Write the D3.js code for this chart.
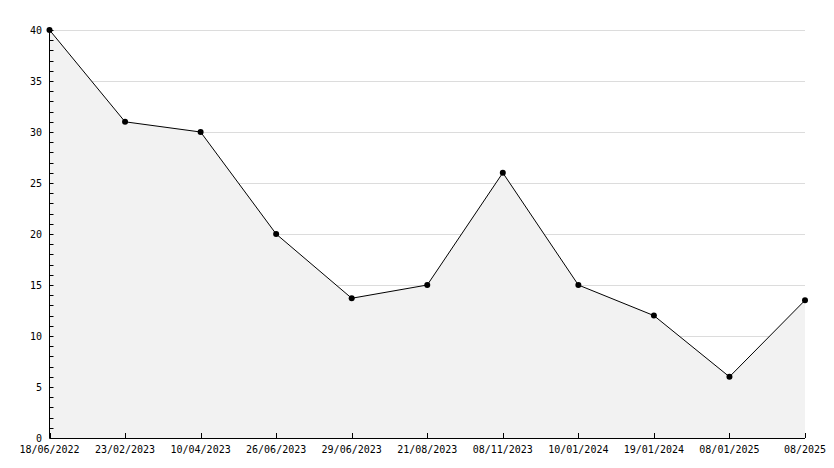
<!DOCTYPE html>
<html><head><meta charset="utf-8">
<script src="https://cdn.jsdelivr.net/npm/d3@7"></script>
<style>body{margin:0;background:#fff}svg{display:block}text{font-family:"DejaVu Sans Mono",monospace;font-size:10px;fill:#000}</style>
</head><body><svg id="c" width="834" height="468"></svg>
<script>
const categories = ["18/06/2022","23/02/2023","10/04/2023","26/06/2023","29/06/2023","21/08/2023","08/11/2023","10/01/2024","19/01/2024","08/01/2025","08/2025"];
const values = [40,31,30,20,13.7,15,26,15,12,6,13.5];
const yMajorTicks = [0,5,10,15,20,25,30,35,40];
const yMinorTicks = d3.range(0,41,1);

const svg = d3.select("#c");
const L=49.5, R=805, T=30, B=438;
const x = d3.scalePoint().domain(categories).range([L,R]).padding(0);
const y = d3.scaleLinear().domain([0,40]).range([B,T]);

// grid
svg.append("g").selectAll("line").data(yMajorTicks.filter(d=>d>0)).join("line")
  .attr("x1",L).attr("x2",R).attr("y1",d=>Math.round(y(d))+0.5).attr("y2",d=>Math.round(y(d))+0.5)
  .attr("stroke","#dcdcdc").attr("stroke-width",1);

// area
const area = d3.area().x((d,i)=>x(categories[i])).y0(y(0)).y1(d=>y(d));
svg.append("path").datum(values).attr("d",area).attr("fill","#f2f2f2");

// line
const line = d3.line().x((d,i)=>x(categories[i])).y(d=>y(d));
svg.append("path").datum(values).attr("d",line).attr("fill","none").attr("stroke","#000").attr("stroke-width",1);

// y axis
const ga = svg.append("g");
ga.append("line").attr("x1",L).attr("x2",L).attr("y1",T).attr("y2",B).attr("stroke","#000").attr("shape-rendering","crispEdges");
ga.selectAll("line.mi").data(yMinorTicks).join("line").attr("class","mi")
  .attr("x1",L).attr("x2",L+4).attr("y1",d=>Math.round(y(d))+0.5).attr("y2",d=>Math.round(y(d))+0.5)
  .attr("stroke","#000");
ga.selectAll("text").data(yMajorTicks).join("text")
  .attr("x",42).attr("y",d=>y(d)+4).attr("text-anchor","end").text(d=>d);

// x axis
const gx = svg.append("g");
gx.append("line").attr("x1",L).attr("x2",R).attr("y1",B+0.5).attr("y2",B+0.5).attr("stroke","#000");
gx.selectAll("line.t").data(categories).join("line").attr("class","t")
  .attr("x1",d=>Math.round(x(d))+0.5).attr("x2",d=>Math.round(x(d))+0.5).attr("y1",B).attr("y2",B-5).attr("stroke","#000");
gx.selectAll("text").data(categories).join("text")
  .attr("x",d=>x(d)).attr("y",453).attr("text-anchor","middle").text(d=>d);

// markers
svg.append("g").selectAll("circle").data(values).join("circle")
  .attr("cx",(d,i)=>x(categories[i])).attr("cy",d=>y(d)).attr("r",3).attr("fill","#000");
</script></body></html>
